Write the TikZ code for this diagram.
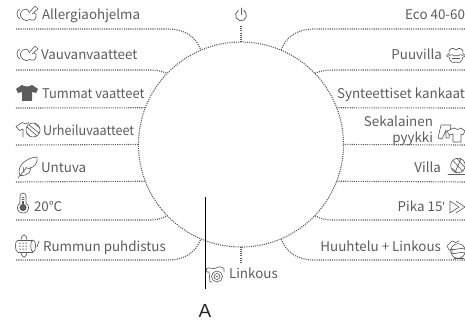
\documentclass[tikz,border=0pt]{standalone}
\usepackage{fontspec}
\setmainfont{Noto Sans CJK SC}[Scale=1]
\newfontfamily\labelfont{Liberation Sans}
\usetikzlibrary{calc}
\definecolor{ink}{gray}{0.36}
\definecolor{dots}{gray}{0.36}
\tikzset{
 x=1pt,y=-1pt,
 dotline/.style={draw=dots,line width=1.1pt,dash pattern=on 1.1pt off 1.1pt},
 lab/.style={text=ink,font=\fontsize{13.4}{14}\selectfont,inner sep=0,outer sep=0},
 labl/.style={lab,anchor=base west},
 labr/.style={lab,anchor=base east},
 icn/.style={draw=ink,line width=0.65pt,fill=none,line cap=round,line join=round},
 pics/cloudmark/.style={code={
   \draw[icn] (0,-4) .. controls (-4,-2) and (-4,4) .. (0,6);
   \draw[icn] (3,-3) .. controls (0,-1) and (-1,3) .. (3,6.5) .. controls (5,8) and (8,8) .. (10,6.5) .. controls (12,8) and (16,7) .. (16,4) .. controls (17,2) and (16,0) .. (14,0);
   \draw[icn] (3,-3) .. controls (5,-5) and (8,-4) .. (9,-1);
   \draw[icn] (9,0) -- (15,-7) (12,1) -- (18,-4) (15,-7) -- (18,-4);
 }},
}
\begin{document}
\begin{tikzpicture}
\useasboundingbox (0,0) rectangle (465,323);
\node[circle,minimum size=205pt,inner sep=0,outer sep=0,dotline] (dial) at (241,144.5) {};
\foreach \n/\yy in {la/29,lb/70,lc/108,ld/145,le/182,lf/220,lg/260}{\coordinate (\n) at (16,\yy);}
\foreach \n/\yy in {ra/29,rb/70,rc/108,rd/145,re/182,rf/220,rg/260}{\coordinate (\n) at (465,\yy);}
\coordinate (pw) at (241,26);
\coordinate (sp) at (241,263);
\draw[dotline] (la) -- (168,29) .. controls (185,29) and (196,37) .. (dial.113);
\draw[dotline] (lb) -- (150,70) .. controls (156,70) and (161,71) .. (dial.136);
\draw[dotline] (lc) -- (dial.159);
\draw[dotline] (ld) -- (dial.180);
\draw[dotline] (le) -- (dial.201);
\draw[dotline] (lf) -- (150,220) .. controls (156,220) and (161,219) .. (dial.224);
\draw[dotline] (lg) -- (168,260) .. controls (185,260) and (196,252) .. (dial.247);
\draw[dotline] (ra) -- (314,29) .. controls (297,29) and (286,37) .. (dial.67);
\draw[dotline] (rb) -- (332,70) .. controls (326,70) and (321,71) .. (dial.44);
\draw[dotline] (rc) -- (dial.21);
\draw[dotline] (rd) -- (dial.0);
\draw[dotline] (re) -- (dial.-21);
\draw[dotline] (rf) -- (332,220) .. controls (326,220) and (321,219) .. (dial.-44);
\draw[dotline] (rg) -- (314,260) .. controls (297,260) and (286,252) .. (dial.-67);
\draw[dotline] (pw) -- (dial.90);
\draw[dotline] (sp) -- (dial.-90);
% left labels
\node[labl] (t1) at (42,20) {Allergiaohjelma};
\node[labl] (t2) at (41,60) {Vauvanvaatteet};
\node[labl] (t3) at (42,99) {\scalebox{0.96}[1]{Tummat vaatteet}};
\node[labl] (t4) at (43,136) {\scalebox{0.94}[1]{Urheiluvaatteet}};
\node[labl] (t5) at (41,172) {Untuva};
\node[labl] (t6) at (34,211) {20℃};
\node[labl] (t7) at (43,251) {Rummun puhdistus};
% right labels
\node[labr] (r1) at (465,20) {Eco 40-60};
\node[labr] (r2) at (442,60) {Puuvilla};
\node[labr] (r3) at (465,99) {Synteettiset kankaat};
\node[labr,align=right,font=\fontsize{13.4}{16}\selectfont,anchor=south east] (r4) at (433,146) {Sekalainen\\pyykki};
\node[labr] (r5) at (441,172) {Villa};
\node[labr] (r6) at (445,211) {Pika 15{\labelfont\char39}};
\node[labr] (r7) at (441,251) {Huuhtelu + Linkous};
\node[labl] (b1) at (229,278) {Linkous};
% icons left
\pic at (20,13) {cloudmark};
\pic at (20,53) {cloudmark};
\fill[ink] (16,89) -- (22,85) .. controls (25,87) and (29,87) .. (32,85) -- (38,89) -- (36,93) -- (32,92) -- (32,101) -- (22,101) -- (22,92) -- (18,93) -- cycle;
\begin{scope}[shift={(28,128)}]
 \draw[icn] (-5,9) -- (-5,1) -- (-8.5,2.5) -- (-12,-1.5) -- (-6,-5.5) .. controls (-4,-3.5) and (-1,-3.5) .. (1,-5.5);
 \draw[icn] (5,2) circle (7);
 \draw[icn] (-1,-1) -- (9,8) (1,-3) -- (11,5) (-2,4) -- (3,9) (6,-5) -- (12,0);
\end{scope}
\begin{scope}[shift={(28,167)}]
 \draw[icn] (-10,11) -- (-1,0);
 \draw[icn] (-8,8.5) .. controls (-12,0) and (-3,-9) .. (9,-10) .. controls (10,-3) and (6,0) .. (2,1) .. controls (4,4) and (0,9) .. (-8,8.5);
 \draw[icn] (-4,5.5) -- (-5,0) (-1,2) -- (3,1);
\end{scope}
\begin{scope}[shift={(23,205)}]
 \draw[icn] (-3,-2) -- (-3,-9) arc (180:360:3) -- (3,-2);
 \draw[icn] (-3,-2) .. controls (-7,0) and (-7,8) .. (0,8) .. controls (7,8) and (7,0) .. (3,-2);
 \fill[ink] (0,2.5) circle (3.6);
 \fill[ink] (-1,-4) rectangle (1,1);
 \draw[icn] (-1,-8) -- (1,-8) (-1,-6) -- (1,-6);
\end{scope}
\begin{scope}[shift={(26,246)}]
 \draw[icn] (-8,-6) -- (7,-6) (-8,6) -- (7,6);
 \draw[icn] (-8,-6) .. controls (-11.5,-6) and (-11.5,6) .. (-8,6);
 \draw[icn] (7,-6) .. controls (10.5,-6) and (10.5,6) .. (7,6);
 \draw[icn] (7,-6) .. controls (4,-6) and (4,6) .. (7,6);
 \draw[icn] (-5,-6) .. controls (-4,-13) and (0,-13) .. (1,-6);
 \draw[icn] (-5,6) .. controls (-4,13) and (0,13) .. (1,6);
 \foreach \a in {-6,-3,0}{\foreach \b in {-3,0,3}{\fill[ink] (\a,\b) circle (0.75);}}
 \draw[icn] (11,1) -- (13,-5);
\end{scope}
% icons right
\begin{scope}[shift={(456,55)}]
 \draw[icn] (-7,-1) .. controls (-8,-7) and (-3,-8) .. (0,-5) .. controls (3,-8) and (8,-7) .. (7,-1) .. controls (10,0) and (10,2) .. (7,2) .. controls (6,8) and (2,8) .. (0,7) .. controls (-2,8) and (-6,8) .. (-7,2) .. controls (-10,2) and (-10,0) .. (-7,-1);
 \draw[icn] (-7,0.5) .. controls (-3,-2) and (-2,2.5) .. (0,0.5) .. controls (2,2.5) and (3,-2) .. (7,0.5);
 \draw[icn] (-4,3.5) -- (4,3.5);
\end{scope}
\begin{scope}[shift={(450,138)}]
 \draw[icn] (-12,0) -- (-9,-13) -- (1,-13) -- (-1,0) -- (-4,0) -- (-4,-8) -- (-8,1) -- cycle;
 \draw[icn,fill=white] (-3,-7) -- (4,-10) .. controls (6,-8) and (9,-8) .. (11,-10) -- (15,-7) -- (13,-3) -- (11,-4) -- (11,4) -- (3,4) -- (3,-4) -- (-1,-3) -- cycle;
\end{scope}
\begin{scope}[shift={(458,165.5)}]
 \draw[icn] (0,0) circle (7.3);
 \draw[icn] (-5,-5) -- (5,6) (-1,-7) -- (7,2) (3,-7) -- (-3,7) (-6,3) -- (-1,7);
 \draw[icn] (-10,8.5) -- (7,8.5);
\end{scope}
\begin{scope}[shift={(450,207)}]
 \draw[icn] (0,-6) -- (9,0) -- (0,6) -- cycle;
 \draw[icn] (6,-6) -- (15,0) -- (6,6);
\end{scope}
\begin{scope}[shift={(457,250)}]
 \draw[icn] (-5,3) -- (-5,-1) -- (-8,0) -- (-10,-4) -- (-5,-9) .. controls (-3,-7) and (0,-7) .. (2,-9);
 \draw[icn] (1,1) circle (7.3);
 \draw[icn] (-6,-1) .. controls (-2,1) and (3,-3) .. (8,-1) (-6,3) .. controls (-2,5) and (3,1) .. (8,3);
 \draw[icn] (-3,8.5) -- (7,8.5);
\end{scope}
% power
\begin{scope}[shift={(241,15)}]
 \draw[icn,line width=0.8pt] (0,-7) -- (0,-0.5);
 \draw[icn,line width=0.8pt] (-2.75,-4.5) arc (-120:-420:5.5);
\end{scope}
% spin
\begin{scope}[shift={(216,275)}]
 \draw[icn] (-4,7) -- (-6,7) -- (-7,-3) -- (-9,-3) -- (-10,-6) .. controls (-7,-9) and (-3,-5) .. (0,-7) .. controls (3,-9) and (7,-8) .. (8,-6) -- (8,-3);
 \draw[icn] (1,1.5) circle (5.5);
 \draw[icn] (1,1.5) circle (3);
 \fill[ink] (1,1.5) circle (0.8);
\end{scope}
% pointer
\coordinate (pa) at (205.5,197);
\coordinate (pb) at (205.5,289);
\draw[black,line width=1.2pt] (pa) -- (pb);
\node[inner sep=0,outer sep=0,anchor=base,text=black!85,font=\labelfont\fontsize{19}{20}\selectfont] (A) at (205,317) {A};
\end{tikzpicture}
\end{document}
